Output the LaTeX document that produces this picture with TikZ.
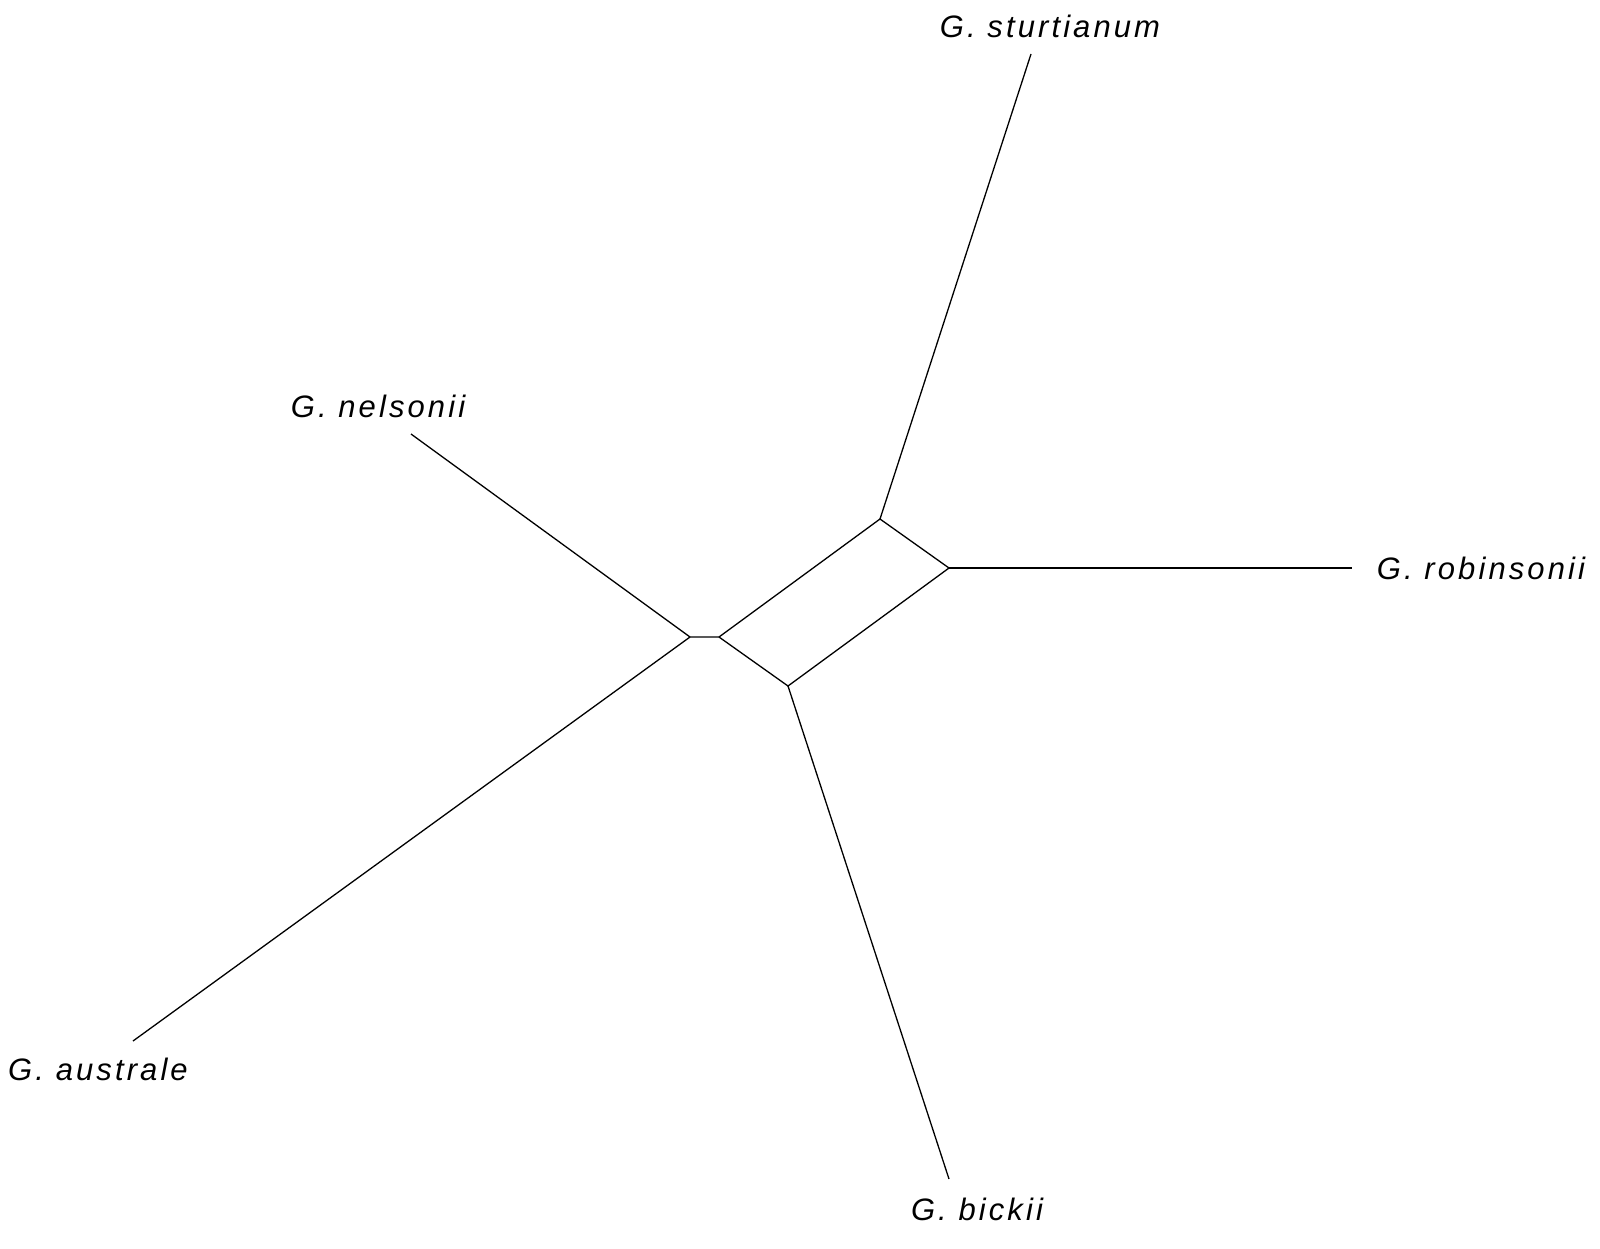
\documentclass[tikz,border=0pt]{standalone}
\usepackage{fontspec}
\setmainfont{Liberation Sans}
\newfontfamily\labfont[LetterSpace=10]{Liberation Sans}
\begin{document}
\begin{tikzpicture}[x=1pt,y=-1pt,
  edge/.style={line width=1.3pt, black},
  lab/.style={font=\labfont\fontsize{31}{35}\selectfont\itshape, inner sep=0pt}]
\fill[white] (0,0) rectangle (1600,1248);
\useasboundingbox (0,0) rectangle (1600,1248);
\coordinate (A) at (690,637);
\coordinate (B) at (719,637);
\coordinate (C) at (880,519);
\coordinate (D) at (949,568);
\coordinate (E) at (788,686);
\coordinate (st) at (1031,54);
\coordinate (ro) at (1352,568);
\coordinate (bi) at (949,1179);
\coordinate (au) at (133,1041);
\coordinate (ne) at (411,434);
\draw[edge] (A) -- (B) -- (C) -- (D) -- (E) -- (B);
\draw[edge] (A) -- (ne);
\draw[edge] (A) -- (au);
\draw[edge] (C) -- (st);
\draw[edge] (D) -- (ro);
\draw[edge] (E) -- (bi);
\node[lab] (lst) at (1050,26) {G. sturtianum};
\node[lab] (lne) at (378,406) {G. nelsonii};
\node[lab] (lro) at (1481,568) {G. robinsonii};
\node[lab] (lau) at (98,1069) {G. australe};
\node[lab] (lbi) at (977,1209) {G. bickii};
\end{tikzpicture}
\end{document}
